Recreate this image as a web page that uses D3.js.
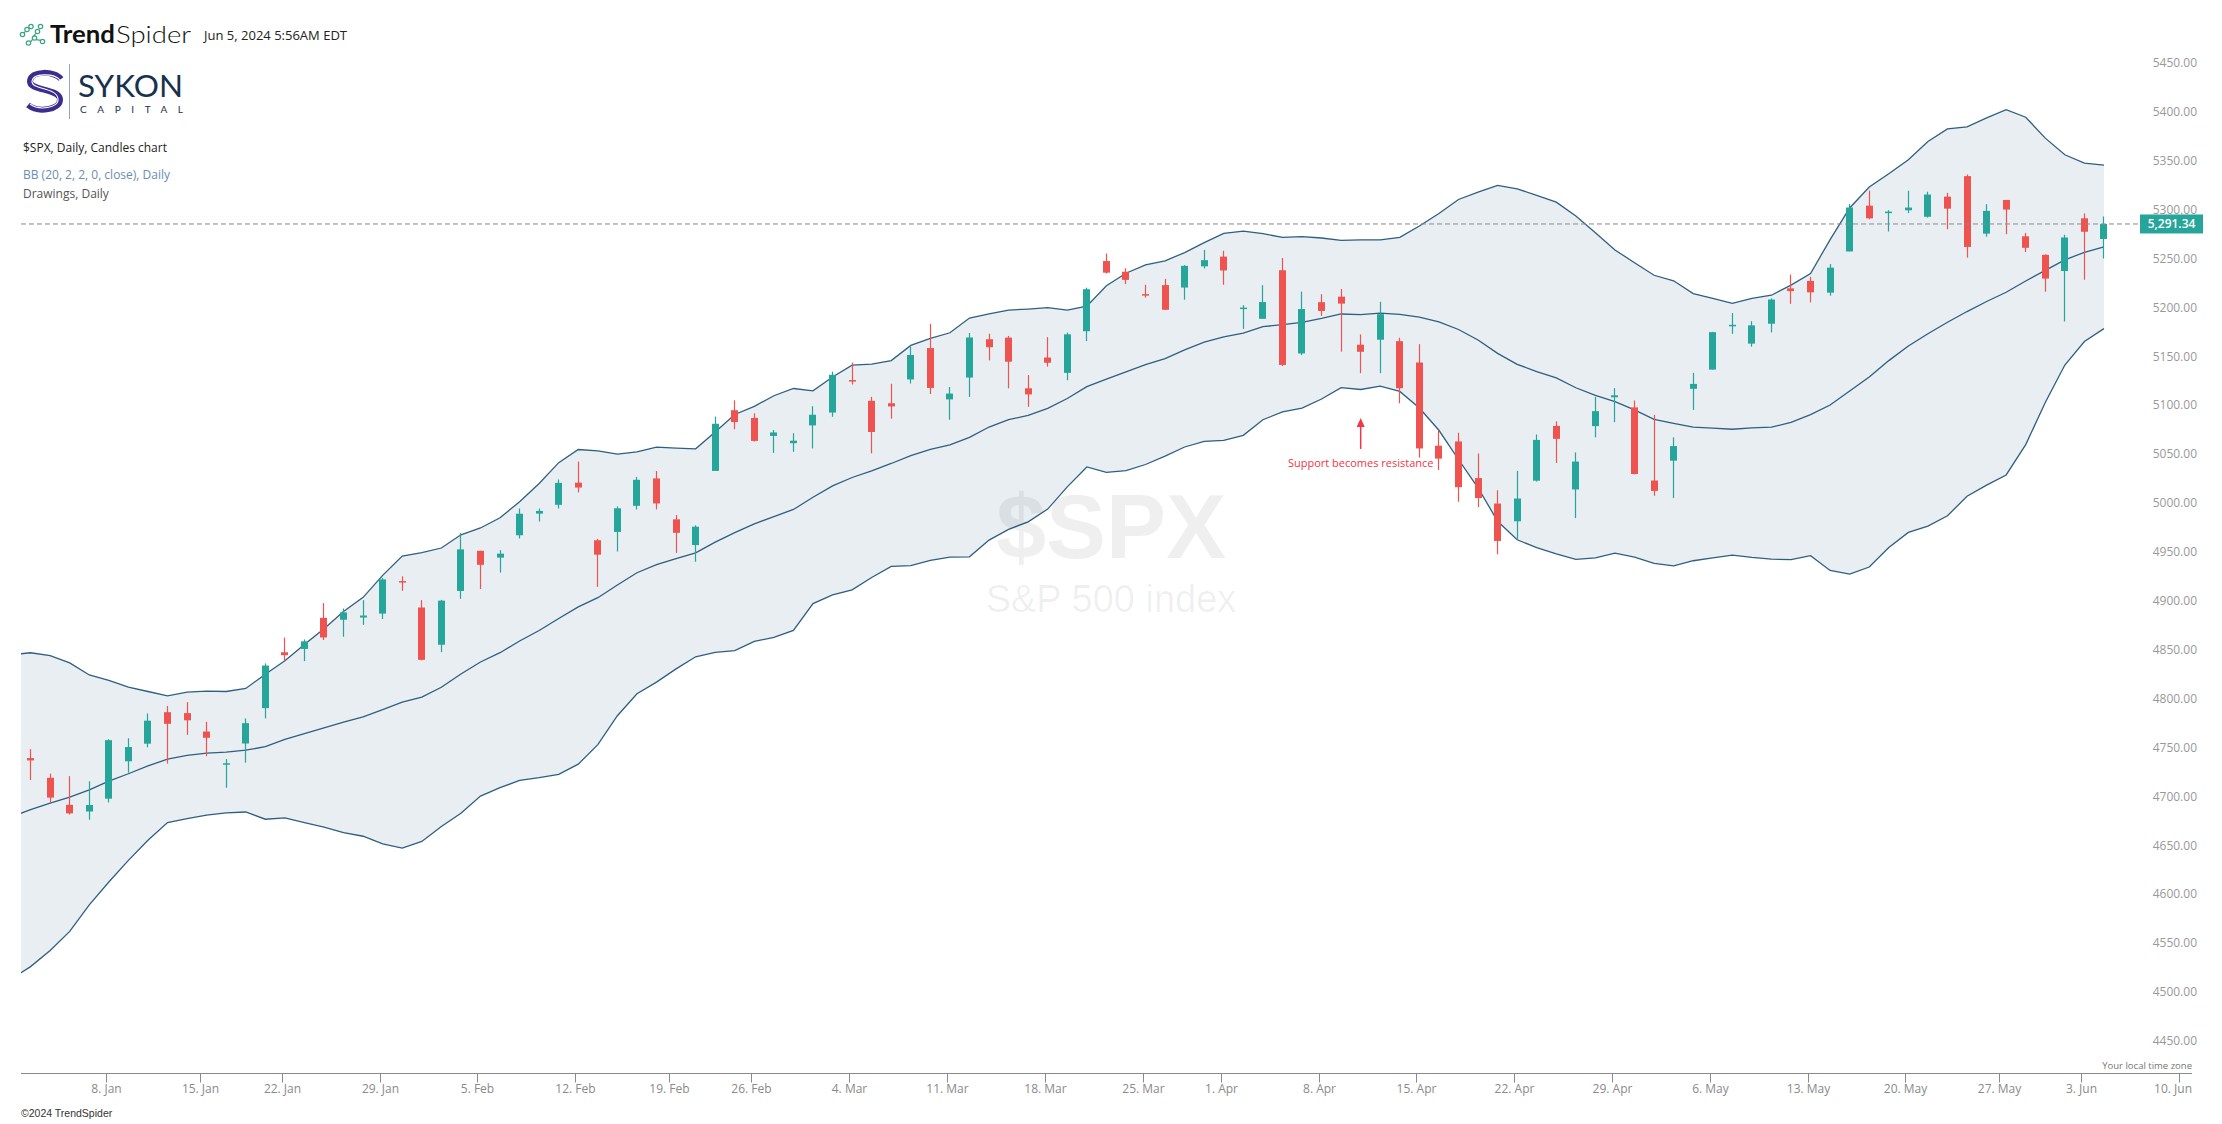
<!DOCTYPE html>
<html><head><meta charset="utf-8">
<script src="https://cdn.jsdelivr.net/npm/d3@7"></script>
<style>
html,body{margin:0;padding:0;background:#fff;}
svg{display:block;}
text{font-family:"Open Sans","Noto Sans",sans-serif;}
</style></head>
<body>
<svg id="chart" width="2222" height="1124"></svg>
<script>
// ---------------- DATA ----------------
const dates = ["2024-01-02","2024-01-03","2024-01-04","2024-01-05","2024-01-08","2024-01-09","2024-01-10","2024-01-11","2024-01-12","2024-01-16",
"2024-01-17","2024-01-18","2024-01-19","2024-01-22","2024-01-23","2024-01-24","2024-01-25","2024-01-26","2024-01-29","2024-01-30",
"2024-01-31","2024-02-01","2024-02-02","2024-02-05","2024-02-06","2024-02-07","2024-02-08","2024-02-09","2024-02-12","2024-02-13",
"2024-02-14","2024-02-15","2024-02-16","2024-02-20","2024-02-21","2024-02-22","2024-02-23","2024-02-26","2024-02-27","2024-02-28",
"2024-02-29","2024-03-01","2024-03-04","2024-03-05","2024-03-06","2024-03-07","2024-03-08","2024-03-11","2024-03-12","2024-03-13",
"2024-03-14","2024-03-15","2024-03-18","2024-03-19","2024-03-20","2024-03-21","2024-03-22","2024-03-25","2024-03-26","2024-03-27",
"2024-03-28","2024-04-01","2024-04-02","2024-04-03","2024-04-04","2024-04-05","2024-04-08","2024-04-09","2024-04-10","2024-04-11",
"2024-04-12","2024-04-15","2024-04-16","2024-04-17","2024-04-18","2024-04-19","2024-04-22","2024-04-23","2024-04-24","2024-04-25",
"2024-04-26","2024-04-29","2024-04-30","2024-05-01","2024-05-02","2024-05-03","2024-05-06","2024-05-07","2024-05-08","2024-05-09",
"2024-05-10","2024-05-13","2024-05-14","2024-05-15","2024-05-16","2024-05-17","2024-05-20","2024-05-21","2024-05-22","2024-05-23",
"2024-05-24","2024-05-28","2024-05-29","2024-05-30","2024-05-31","2024-06-03","2024-06-04"];

const open = [4745.20,4725.07,4697.42,4690.57,4703.70,4741.93,4759.94,4792.13,4791.18,4772.35,
4739.13,4760.10,4796.28,4853.42,4856.80,4888.56,4886.66,4888.91,4892.95,4925.89,
4899.19,4861.11,4916.06,4957.19,4950.16,4973.05,4995.16,5004.17,5026.83,4967.94,
4976.44,5003.14,5031.13,4989.32,4963.03,5038.83,5100.92,5093.00,5074.60,5067.20,
5085.36,5098.51,5130.99,5110.52,5108.03,5132.38,5164.46,5111.96,5134.30,5173.49,
5175.14,5123.31,5154.77,5139.09,5181.69,5253.43,5242.48,5219.52,5228.85,5226.31,
5248.03,5257.97,5204.29,5194.37,5244.05,5158.95,5211.37,5217.03,5167.88,5172.95,
5171.51,5149.67,5064.59,5068.97,5031.52,5005.44,4987.33,5028.85,5084.86,5019.88,
5084.65,5114.13,5103.78,5029.03,5049.32,5122.78,5142.42,5187.20,5168.98,5189.31,
5225.49,5233.08,5221.10,5263.26,5310.07,5303.10,5305.35,5298.69,5319.28,5340.26,
5281.45,5315.91,5278.73,5259.77,5243.21,5297.15,5275.97];

const high = [4754.33,4729.29,4726.78,4721.49,4764.54,4765.47,4790.80,4798.50,4802.40,4782.34,
4744.23,4785.79,4842.07,4868.41,4866.48,4903.68,4898.15,4906.69,4929.31,4931.09,
4906.75,4906.97,4975.29,4957.19,4957.77,5000.40,5000.40,5030.06,5048.39,4969.34,
5002.52,5032.72,5038.70,4993.71,4983.21,5094.39,5111.06,5097.66,5080.69,5077.37,
5104.99,5140.33,5149.67,5114.54,5127.97,5165.62,5189.26,5124.66,5179.87,5179.14,
5176.85,5136.86,5175.60,5180.31,5226.19,5261.10,5246.09,5229.09,5235.16,5249.26,
5264.85,5263.95,5208.34,5228.75,5256.59,5222.18,5219.57,5224.81,5178.43,5211.78,
5175.03,5168.43,5079.84,5077.96,5056.66,5019.02,5038.84,5076.12,5089.48,5057.75,
5114.62,5123.49,5110.83,5096.12,5073.21,5139.12,5181.00,5200.23,5191.95,5215.30,
5239.66,5237.26,5250.37,5311.76,5325.49,5305.45,5325.32,5324.32,5323.18,5341.88,
5311.65,5315.91,5282.27,5260.21,5280.33,5302.11,5299.00];

const low = [4722.67,4699.71,4687.53,4682.11,4699.82,4730.35,4756.20,4739.58,4768.98,4747.12,
4714.82,4740.57,4785.87,4844.05,4844.37,4865.94,4869.34,4881.47,4887.40,4916.27,
4845.15,4853.52,4907.99,4918.09,4934.88,4969.82,4987.09,5000.34,5016.83,4920.31,
4956.45,4999.44,4999.52,4955.02,4946.00,5038.83,5081.46,5068.91,5057.29,5058.35,
5061.89,5094.16,5127.18,5056.82,5092.22,5128.21,5117.50,5091.14,5114.48,5151.88,
5123.30,5104.35,5145.47,5131.59,5171.55,5240.66,5229.87,5216.09,5203.42,5213.92,
5245.82,5229.20,5184.05,5194.37,5146.06,5157.21,5197.35,5160.78,5138.70,5138.77,
5107.94,5052.47,5039.83,5007.25,5001.89,4953.56,4969.40,5027.96,5047.02,4990.58,
5073.14,5088.65,5035.31,5013.45,5011.05,5101.22,5142.42,5178.96,5165.86,5180.41,
5209.68,5211.16,5217.98,5263.26,5296.19,5283.59,5302.40,5297.87,5286.01,5256.93,
5278.39,5280.89,5262.70,5222.10,5191.68,5234.32,5256.00];

const close = [4742.83,4704.81,4688.68,4697.24,4763.54,4756.50,4783.45,4780.24,4783.83,4765.98,
4739.21,4780.94,4839.81,4850.43,4864.60,4868.55,4894.16,4890.97,4927.93,4924.97,
4845.65,4906.19,4958.61,4942.81,4954.23,4995.06,4997.91,5026.61,5021.84,4953.17,
5000.62,5029.73,5005.57,4975.51,4981.80,5087.03,5088.80,5069.53,5078.18,5069.76,
5096.27,5137.08,5130.95,5078.65,5104.76,5157.36,5123.69,5117.94,5175.27,5165.31,
5150.48,5117.09,5149.42,5178.51,5224.62,5241.53,5234.18,5218.19,5203.58,5248.49,
5254.35,5243.77,5205.81,5211.49,5147.21,5204.34,5202.39,5209.91,5160.64,5199.06,
5123.41,5061.82,5051.41,5022.21,5011.12,4967.23,5010.60,5070.55,5071.63,5048.42,
5099.96,5116.17,5035.69,5018.39,5064.20,5127.79,5180.74,5187.70,5187.67,5214.08,
5222.68,5221.42,5246.68,5308.15,5297.10,5303.27,5308.13,5321.41,5307.01,5267.84,
5304.72,5306.04,5266.95,5235.48,5277.51,5283.40,5291.34];

// Bollinger Bands (20, 2) as drawn; first value is 2023-12-29 (partly off the left edge)
const bbFirstDate = "2023-12-29";
const bbUpper = [4850.8,4852.9,4849.9,4842.6,4830.2,4824.7,4817.8,4813.3,4808.8,4812.6,
4813.6,4813.3,4816.4,4830.9,4844.7,4861.3,4877.5,4895.1,4909.6,4932.0,
4951.7,4955.2,4960.0,4973.5,4980.5,4991.0,5007.4,5026.0,5047.3,5060.7,
5059.4,5056.0,5058.4,5063.1,5062.1,5061.4,5078.6,5096.5,5104.9,5115.7,
5123.1,5120.7,5134.9,5147.0,5148.0,5151.7,5167.2,5174.3,5180.1,5195.2,
5199.3,5203.3,5204.3,5205.7,5203.3,5207.2,5228.1,5241.0,5249.5,5253.6,
5262.1,5272.2,5281.8,5284.1,5281.4,5277.7,5278.4,5277.0,5274.6,5275.0,
5275.0,5277.7,5289.2,5302.1,5316.4,5323.9,5330.7,5327.3,5320.5,5313.7,
5299.4,5282.4,5264.8,5251.7,5238.9,5233.2,5220.2,5215.2,5210.1,5215.2,
5218.5,5228.8,5240.7,5275.4,5307.7,5329.1,5342.7,5357.0,5375.7,5388.6,
5390.7,5399.8,5408.3,5400.5,5379.1,5362.1,5353.6,5351.5];
const bbMiddle = [4685.05,4692.46,4699.21,4705.29,4712.68,4721.58,4729.19,4737.24,4744.07,4747.91,
4750.23,4751.23,4753.25,4756.82,4764.42,4770.31,4776.01,4781.98,4787.45,4794.68,
4802.44,4807.58,4817.65,4831.15,4843.43,4852.96,4864.89,4875.61,4887.93,4899.83,
4909.19,4922.26,4934.70,4942.99,4949.24,4955.10,4966.02,4975.75,4984.68,4992.19,
4999.43,5011.96,5023.50,5032.12,5038.91,5046.44,5054.56,5060.85,5065.42,5073.09,
5083.70,5091.19,5095.56,5102.75,5112.90,5125.04,5132.77,5140.04,5147.47,5153.74,
5162.68,5170.58,5175.91,5179.65,5186.29,5188.41,5190.76,5194.70,5199.30,5198.57,
5200.26,5198.91,5196.15,5191.25,5183.43,5172.75,5159.03,5147.85,5140.47,5133.87,
5123.87,5116.15,5109.77,5101.26,5091.60,5087.45,5083.62,5082.54,5081.43,5082.78,
5083.53,5088.49,5096.47,5106.23,5120.53,5134.83,5151.63,5166.51,5179.05,5190.82,
5201.79,5212.03,5221.52,5233.08,5243.93,5254.60,5262.38,5267.91];
const bbLower = [4519.3,4532.0,4548.5,4568.0,4595.2,4618.5,4640.6,4661.2,4679.3,4683.2,
4686.9,4689.2,4690.1,4682.7,4684.1,4679.3,4674.5,4668.9,4665.3,4657.4,
4653.2,4660.0,4675.3,4688.8,4706.4,4714.9,4722.4,4725.2,4728.6,4739.0,
4759.0,4788.5,4811.0,4822.9,4836.4,4848.8,4853.4,4855.0,4864.5,4868.7,
4875.8,4903.2,4912.1,4917.2,4929.8,4941.2,4941.9,4947.4,4950.7,4951.0,
4968.1,4979.1,4986.8,4999.8,5022.5,5042.9,5037.4,5039.1,5045.4,5053.9,
5063.3,5069.0,5070.0,5075.2,5091.2,5099.1,5103.1,5112.4,5124.0,5122.1,
5125.5,5120.1,5103.1,5080.4,5050.5,5021.6,4987.4,4968.4,4960.4,4954.0,
4948.3,4949.9,4954.7,4950.8,4944.3,4941.7,4947.0,4949.9,4952.8,4950.4,
4948.6,4948.2,4952.2,4937.1,4933.4,4940.6,4960.6,4976.0,4982.4,4993.0,
5012.9,5024.3,5034.7,5065.7,5108.8,5147.1,5171.2,5184.3];

const tickDates = ["2024-01-08","2024-01-15","2024-01-22","2024-01-29","2024-02-05","2024-02-12","2024-02-19","2024-02-26",
"2024-03-04","2024-03-11","2024-03-18","2024-03-25","2024-04-01","2024-04-08","2024-04-15","2024-04-22","2024-04-29",
"2024-05-06","2024-05-13","2024-05-20","2024-05-27","2024-06-03","2024-06-10"];
const tickLabels = ["8. Jan","15. Jan","22. Jan","29. Jan","5. Feb","12. Feb","19. Feb","26. Feb",
"4. Mar","11. Mar","18. Mar","25. Mar","1. Apr","8. Apr","15. Apr","22. Apr","29. Apr",
"6. May","13. May","20. May","27. May","3. Jun","10. Jun"];
const priceTicks = [4450,4500,4550,4600,4650,4700,4750,4800,4850,4900,4950,5000,5050,5100,5150,5200,5250,5300,5350,5400,5450];
const lastPrice = 5291.34;
const annotation = {text:"Support becomes resistance", date:"2024-04-10", price:5093};

// ---------------- CHART ----------------
const svg = d3.select("#chart");
const GREEN = "#26a69a", RED = "#ef5350";
const plotLeft = 21, axisY = 1073.5, axisRight = 2192;

const x = d3.scaleLinear().domain([0, 106]).range([30.6, 30.6 + 106*19.56]);
const y = d3.scaleLinear().domain([4450, 5450]).range([1046.8, 68.8]);

svg.append("defs").append("clipPath").attr("id","plotclip")
  .append("rect").attr("x", plotLeft).attr("y", 0).attr("width", 2180).attr("height", axisY);

const plot = svg.append("g").attr("clip-path","url(#plotclip)");

// band index: k -> trading-day index k-1 (first point is the prior session)
const bIdx = bbUpper.map((_, k) => k - 1);
const area = d3.area().x(i => x(i)).y0(i => y(bbLower[i+1])).y1(i => y(bbUpper[i+1]));
plot.append("path").datum(bIdx).attr("d", area).attr("fill", "#e8eef2");

// watermark
svg.append("text").attr("x", 1111).attr("y", 558).attr("text-anchor","middle")
  .style("font-family","'Liberation Sans',Arial,sans-serif").style("font-weight","bold")
  .style("font-size","90px").attr("fill","rgba(0,0,0,0.062)").text("$SPX");
svg.append("text").attr("x", 1111).attr("y", 612).attr("text-anchor","middle")
  .style("font-family","'Liberation Sans',Arial,sans-serif")
  .style("font-size","38px").attr("fill","rgba(0,0,0,0.062)").text("S&P 500 index");

const lineOf = arr => d3.line().x(i => x(i)).y(i => y(arr[i+1]));
[bbUpper, bbMiddle, bbLower].forEach(arr => {
  plot.append("path").datum(bIdx).attr("d", lineOf(arr))
    .attr("fill","none").attr("stroke","#2f5f7f").attr("stroke-width",1.3);
});

// last price dashed line
svg.append("line").attr("x1", plotLeft).attr("x2", 2140)
  .attr("y1", y(lastPrice)).attr("y2", y(lastPrice))
  .attr("stroke","#8a8a8a").attr("stroke-width",1).attr("stroke-dasharray","5,3");

// candles
const candles = plot.append("g");
dates.forEach((d, i) => {
  const col = close[i] >= open[i] ? GREEN : RED;
  const bx = Math.round(x(i) - 3.5);
  candles.append("line").attr("x1", bx + 3.5).attr("x2", bx + 3.5)
    .attr("y1", y(high[i])).attr("y2", y(low[i])).attr("stroke", col).attr("stroke-width", 1.2);
  const top = y(Math.max(open[i], close[i])), bot = y(Math.min(open[i], close[i]));
  const h = Math.max(1.5, bot - top);
  candles.append("rect").attr("x", bx).attr("y", h === 1.5 ? (top + bot)/2 - 0.75 : top)
    .attr("width", 7).attr("height", h).attr("fill", col);
});

// annotation
const ai = dates.indexOf(annotation.date);
const ax = x(ai), ay = y(annotation.price);
svg.append("line").attr("x1", ax).attr("x2", ax).attr("y1", ay + 7).attr("y2", ay + 31)
  .attr("stroke","#f23645").attr("stroke-width",1.5);
svg.append("path").attr("d", `M${ax},${ay} L${ax-4},${ay+9} L${ax+4},${ay+9} Z`).attr("fill","#f23645");
svg.append("text").attr("x", ax).attr("y", ay + 49).attr("text-anchor","middle")
  .style("font-size","11px").attr("fill","#f23645").text(annotation.text);

// price label
const fmtPrice = d3.format(",.2f");
svg.append("rect").attr("x", 2140).attr("y", y(lastPrice) - 9.5).attr("width", 63).attr("height", 19).attr("fill", GREEN);
svg.append("text").attr("x", 2171.5).attr("y", y(lastPrice) + 4.5).attr("text-anchor","middle")
  .style("font-size","12px").style("font-weight","600").attr("fill","#fff").text(fmtPrice(lastPrice));

// y axis labels
const fmtY = d3.format(".2f");
svg.append("g").selectAll("text").data(priceTicks).join("text")
  .attr("x", 2197).attr("y", d => y(d) - 1.7).attr("text-anchor","end")
  .style("font-size","12px").attr("fill","#999").text(d => fmtY(d));

// x axis
const ext = dates.slice();
{
  let dt = new Date(dates[dates.length-1] + "T12:00:00Z");
  while (ext.length < 115) {
    dt = new Date(dt.getTime() + 86400000);
    const wd = dt.getUTCDay();
    if (wd !== 0 && wd !== 6) ext.push(dt.toISOString().slice(0,10));
  }
}
const tickIndex = td => {
  const k = ext.findIndex(d => d >= td);
  return ext[k] === td ? k : k - 0.2;
};
const xa = svg.append("g");
xa.append("line").attr("x1", plotLeft).attr("x2", axisRight).attr("y1", axisY).attr("y2", axisY)
  .attr("stroke","#8a8a8a").attr("stroke-width",1);
tickDates.forEach((td, j) => {
  const tx = Math.round(x(tickIndex(td)) - 3) + 0.5;
  xa.append("line").attr("x1", tx).attr("x2", tx).attr("y1", axisY).attr("y2", axisY + 9)
    .attr("stroke","#8a8a8a").attr("stroke-width",1);
  const t = xa.append("text").attr("x", tx).attr("y", 1092.5).attr("text-anchor","middle")
    .style("font-size","12px").attr("fill","#8a8a8a").text(tickLabels[j]);
  const bb = t.node().getBBox();
  if (bb.x + bb.width > axisRight) t.attr("x", axisRight).attr("text-anchor","end");
});
svg.append("text").attr("x", axisRight).attr("y", 1069).attr("text-anchor","end")
  .style("font-size","9.5px").attr("fill","#777").text("Your local time zone");

// footer
svg.append("text").attr("x", 21).attr("y", 1117).style("font-family","'Liberation Sans',Arial,sans-serif")
  .style("font-size","10.5px").attr("fill","#333").text("©2024 TrendSpider");

// ---------------- HEADER ----------------
const hdr = svg.append("g");
// TrendSpider icon
const icon = hdr.append("g").attr("fill","none").attr("stroke","#3aa57e").attr("stroke-width",1.2);
[[22.5,34.5],[27,29.5],[31,26.5],[34.5,38],[37.5,31.5],[40.5,26.5],[42.5,41.5],[28.5,43]].forEach(p => {
  icon.append("circle").attr("cx",p[0]).attr("cy",p[1]).attr("r",2.2);
});
[[[24.3,33],[25.4,31.2]],[[28.5,28.5],[29.4,27.6]],[[33.4,36.6],[35.8,33.3]],[[36.2,39.6],[40.8,40.3]],[[30.3,42],[32.7,39.3]]].forEach(s => {
  icon.append("line").attr("x1",s[0][0]).attr("y1",s[0][1]).attr("x2",s[1][0]).attr("y2",s[1][1]);
});
hdr.append("text").attr("x", 50).attr("y", 43).style("font-family","Lato,'Open Sans',sans-serif")
  .style("font-weight","bold").style("font-size","24px").attr("fill","#111")
  .attr("textLength", 65).attr("lengthAdjust","spacingAndGlyphs").text("Trend");
hdr.append("text").attr("x", 116).attr("y", 43).style("font-family","Lato,'Open Sans',sans-serif")
  .style("font-weight","300").style("font-size","24px").attr("fill","#111")
  .attr("textLength", 75).attr("lengthAdjust","spacingAndGlyphs").text("Spider");
hdr.append("text").attr("x", 204).attr("y", 40).style("font-size","12.5px").attr("fill","#222")
  .attr("textLength", 143).attr("lengthAdjust","spacingAndGlyphs").text("Jun 5, 2024 5:56AM EDT");

// Sykon logo
hdr.append("path").attr("d","M61,79 C55,71 31,70 30,81 C29,91 59,88 60,99 C61,110 38,113 28,105")
  .attr("fill","none").attr("stroke","#3b2c8e").attr("stroke-width",6);
hdr.append("path").attr("d","M60,80 C54,73 33,73 32,81 C31,90 57,87 58,99 C59,108 39,111 30,104")
  .attr("fill","none").attr("stroke","#fff").attr("stroke-width",1.1);
hdr.append("line").attr("x1",69.5).attr("x2",69.5).attr("y1",64).attr("y2",119)
  .attr("stroke","#9aa3b5").attr("stroke-width",1);
hdr.append("text").attr("x",78).attr("y",97).style("font-family","Lato,'Open Sans',sans-serif")
  .style("font-size","30px").attr("fill","#17324f")
  .attr("textLength",105).attr("lengthAdjust","spacingAndGlyphs").text("SYKON");
hdr.append("text").attr("x",80).attr("y",112.5).style("font-family","Lato,'Open Sans',sans-serif")
  .style("font-size","10px").attr("fill","#17324f")
  .attr("textLength",103).attr("lengthAdjust","spacing").text("CAPITAL");

hdr.append("text").attr("x",23).attr("y",152).style("font-size","12px").attr("fill","#222").text("$SPX, Daily, Candles chart");
hdr.append("text").attr("x",23).attr("y",178.5).style("font-size","12px").attr("fill","#6a8db0").text("BB (20, 2, 2, 0, close), Daily");
hdr.append("text").attr("x",23).attr("y",197.5).style("font-size","12px").attr("fill","#555").text("Drawings, Daily");
</script>
</body></html>
